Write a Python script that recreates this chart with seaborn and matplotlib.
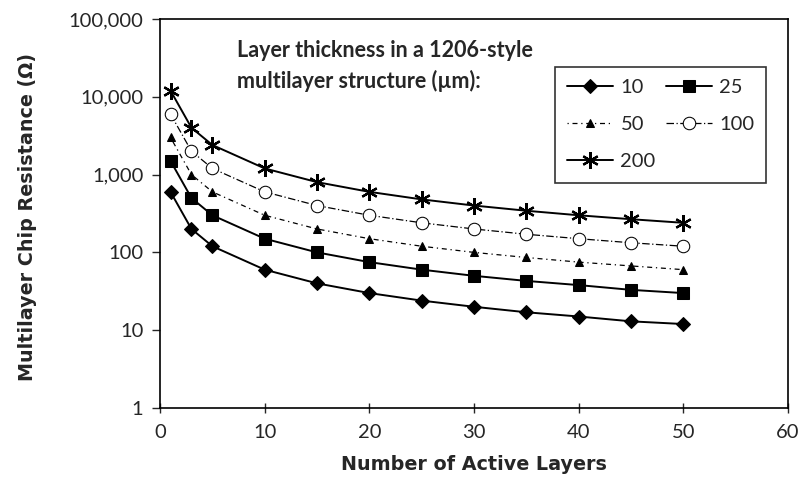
import matplotlib
matplotlib.use("Agg")
import matplotlib.pyplot as plt
import matplotlib.ticker as mticker
import seaborn as sns
import pandas as pd

layers = [1, 3, 5, 10, 15, 20, 25, 30, 35, 40, 45, 50]
r_10 = [600, 200, 120, 60, 40, 30, 24, 20, 17, 15, 13, 12]
r_25 = [1500, 500, 300, 150, 100, 75, 60, 50, 43, 38, 33, 30]
r_50 = [3000, 1000, 600, 300, 200, 150, 120, 100, 86, 75, 67, 60]
r_100 = [6000, 2000, 1200, 600, 400, 300, 240, 200, 171, 150, 133, 120]
r_200 = [12000, 4000, 2400, 1200, 800, 600, 480, 400, 343, 300, 267, 240]
series_names = ["10", "25", "50", "100", "200"]
y_ticks = [1, 10, 100, 1000, 10000, 100000]
x_ticks = [0, 10, 20, 30, 40, 50, 60]

sns.set_theme(style="white")
plt.rcParams["font.family"] = ["Lato", "DejaVu Sans"]

fig = plt.figure(figsize=(8.01, 4.93), dpi=100)
ax = fig.add_axes([0.1998, 0.1724, 0.7840, 0.7891])

styles = {
    "10": dict(marker="D", markersize=7, linestyle="-", mfc="black", linewidth=1.4),
    "25": dict(marker="s", markersize=8, linestyle="-", mfc="black", linewidth=1.4),
    "50": dict(marker="^", markersize=6, linestyle=(0, (1, 3, 4, 3)), mfc="black", linewidth=0.9),
    "100": dict(marker="o", markersize=9, linestyle=(0, (6, 2, 1, 2)), mfc="white", linewidth=0.9),
    "200": dict(marker=(6, 2, 0), markersize=12, linestyle="-", mfc="black", linewidth=1.4, mew=1.6),
}
data = {"10": r_10, "25": r_25, "50": r_50, "100": r_100, "200": r_200}

handles = {}
for name in series_names:
    df = pd.DataFrame({"x": layers, "y": data[name]})
    st = dict(styles[name])
    mfc = st.pop("mfc")
    sns.lineplot(data=df, x="x", y="y", ax=ax, color="black", markerfacecolor=mfc,
                 markeredgecolor="black", label=name, **st)
    handles[name] = ax.get_lines()[-1]

ax.set_yscale("log")
ax.set_ylim(1, 100000)
ax.set_xlim(0, 60)
ax.set_yticks(y_ticks)
ax.yaxis.set_major_formatter(mticker.FuncFormatter(lambda v, p: f"{int(v):,}"))
ax.yaxis.set_minor_locator(mticker.NullLocator())
ax.set_xticks(x_ticks)

ax.tick_params(axis="y", which="major", direction="out", length=6, width=1, left=True,
               labelsize=14.5, pad=6)
ax.tick_params(axis="x", which="major", direction="inout", length=7, width=1, bottom=True,
               labelsize=14.5, pad=8)
for sp in ax.spines.values():
    sp.set_color("black")
    sp.set_linewidth(1.2)

label_font = dict(fontsize=13.8, fontweight="bold", family=["DejaVu Sans"])
ax.set_xlabel("Number of Active Layers", **label_font)
ax.xaxis.set_label_coords(0.5, -0.122)
ax.set_ylabel("Multilayer Chip Resistance (Ω)", **label_font)
ax.yaxis.set_label_coords(-0.196, 0.49)

ax.text(0.123, 0.945, "Layer thickness in a 1206-style\nmultilayer structure (µm):",
        transform=ax.transAxes, fontsize=15.5, fontweight="bold", va="top", ha="left",
        linespacing=1.45)

order = ["10", "50", "200", "25", "100"]
leg = ax.legend([handles[k] for k in order], order, ncol=2, loc="upper left",
                bbox_to_anchor=(0.629, 0.877), borderaxespad=0, frameon=True, fancybox=False,
                edgecolor="black", fontsize=14.5, handlelength=2.3, columnspacing=0.5,
                labelspacing=1.0, borderpad=0.6, handletextpad=0.35)
leg.get_frame().set_linewidth(1.2)

fig.savefig("out.png", dpi=100)
